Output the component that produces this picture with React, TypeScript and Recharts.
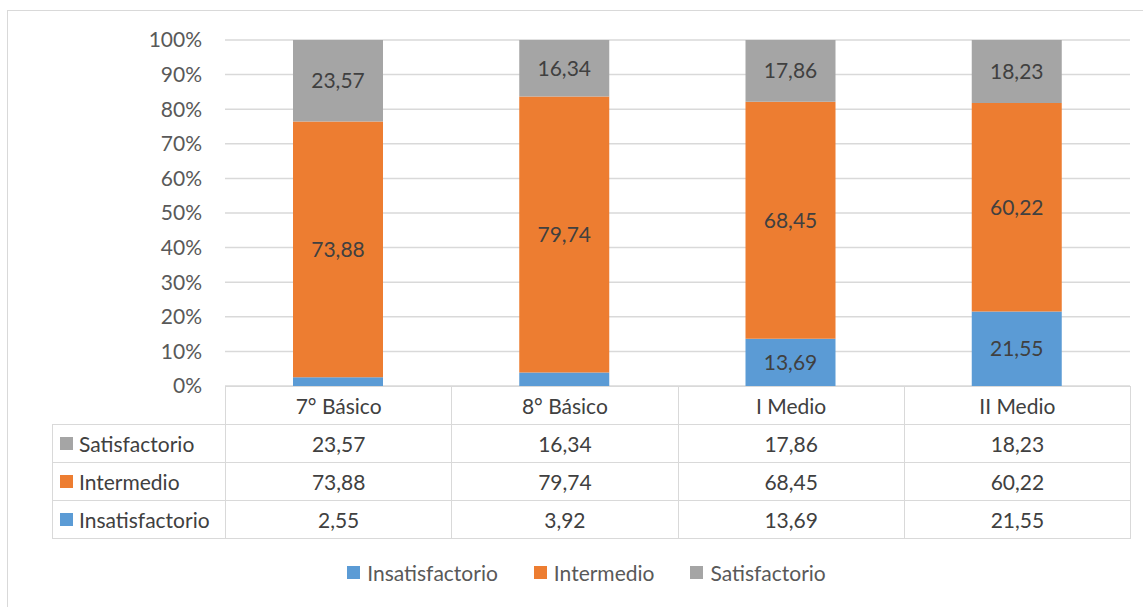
import { BarChart, Bar, YAxis, XAxis, CartesianGrid, LabelList } from 'recharts';

const categories = ['7° Básico', '8° Básico', 'I Medio', 'II Medio'];
const insatisfactorio = [2.55, 3.92, 13.69, 21.55];
const intermedio = [73.88, 79.74, 68.45, 60.22];
const satisfactorio = [23.57, 16.34, 17.86, 18.23];
const yTicks = [0, 10, 20, 30, 40, 50, 60, 70, 80, 90, 100];

const series = [
  { key: 'Insatisfactorio', values: insatisfactorio, color: '#5b9bd5' },
  { key: 'Intermedio', values: intermedio, color: '#ed7d31' },
  { key: 'Satisfactorio', values: satisfactorio, color: '#a5a5a5' },
];

const data = categories.map((name, i) => ({
  name,
  Insatisfactorio: insatisfactorio[i],
  Intermedio: intermedio[i],
  Satisfactorio: satisfactorio[i],
}));

const fmt = (v: number) => v.toFixed(2).replace('.', ',');
const FONT = 'Lato, "Liberation Sans", sans-serif';
const FS = 21;
const GRID = '#d9d9d9';

const W = 1143;
const H = 607;
const PLOT_L = 225;
const PLOT_R = 1130;
const PLOT_T = 40;
const PLOT_B = 386;
const ROW_H = 38;
const TABLE_L = 52;
const colW = (PLOT_R - PLOT_L) / categories.length;

function DataTable() {
  const rows = [...series].reverse();
  const cell = {
    position: 'absolute' as const,
    boxSizing: 'border-box' as const,
    height: ROW_H + 1,
    border: `1px solid ${GRID}`,
    display: 'flex',
    alignItems: 'center',
    justifyContent: 'center',
    fontSize: FS,
    color: '#404040',
  };
  return (
    <>
      {categories.map((c, i) => (
        <div key={c} style={{ ...cell, left: PLOT_L + i * colW, top: PLOT_B, width: colW + 1 }}>
          {c}
        </div>
      ))}
      {rows.map((s, r) => (
        <div key={s.key}>
          <div
            style={{
              ...cell,
              left: TABLE_L,
              top: PLOT_B + ROW_H * (r + 1),
              width: PLOT_L - TABLE_L + 1,
              justifyContent: 'flex-start',
              paddingLeft: 7,
            }}
          >
            <span style={{ width: 13, height: 13, background: s.color, marginRight: 6, display: 'inline-block' }} />
            {s.key}
          </div>
          {s.values.map((v, i) => (
            <div key={i} style={{ ...cell, left: PLOT_L + i * colW, top: PLOT_B + ROW_H * (r + 1), width: colW + 1 }}>
              {fmt(v)}
            </div>
          ))}
        </div>
      ))}
    </>
  );
}

function BottomLegend() {
  return (
    <div
      style={{
        position: 'absolute',
        left: 15,
        top: 560,
        width: W,
        display: 'flex',
        justifyContent: 'center',
        alignItems: 'center',
        fontSize: FS,
        color: '#595959',
      }}
    >
      {series.map((s) => (
        <span key={s.key} style={{ display: 'flex', alignItems: 'center', margin: '0 18px' }}>
          <span style={{ width: 13, height: 13, background: s.color, marginRight: 7, display: 'inline-block' }} />
          {s.key}
        </span>
      ))}
    </div>
  );
}

export default function App() {
  return (
    <div style={{ position: 'absolute', left: 0, top: 0, width: W, height: H, background: '#fff', overflow: 'hidden', fontFamily: FONT }}>
      <div style={{ position: 'absolute', left: 7, top: 10, width: W, height: H, border: `1.5px solid ${GRID}` }} />
      <BarChart
        width={W}
        height={H}
        data={data}
        margin={{ top: PLOT_T, right: W - PLOT_R, bottom: H - PLOT_B, left: 0 }}
        barSize={90}
        style={{ position: 'absolute', left: 0, top: 0, fontFamily: FONT }}
      >
        <CartesianGrid vertical={false} stroke={GRID} strokeWidth={1.5} />
        <XAxis dataKey="name" hide height={0} />
        <YAxis
          width={PLOT_L}
          domain={[0, 100]}
          ticks={yTicks}
          tickFormatter={(v: number) => `${v}%`}
          axisLine={false}
          tickLine={false}
          tickMargin={17}
          tick={{ fill: '#595959', fontSize: FS }}
          interval={0}
        />
        {series.map((s) => (
          <Bar key={s.key} dataKey={s.key} stackId="a" fill={s.color} isAnimationActive={false}>
            <LabelList
              dataKey={s.key}
              position="center"
              fill="#404040"
              fontSize={FS}
              formatter={(v: number) => (v >= 10 ? fmt(v) : '')}
            />
          </Bar>
        ))}
      </BarChart>
      <DataTable />
      <BottomLegend />
    </div>
  );
}
